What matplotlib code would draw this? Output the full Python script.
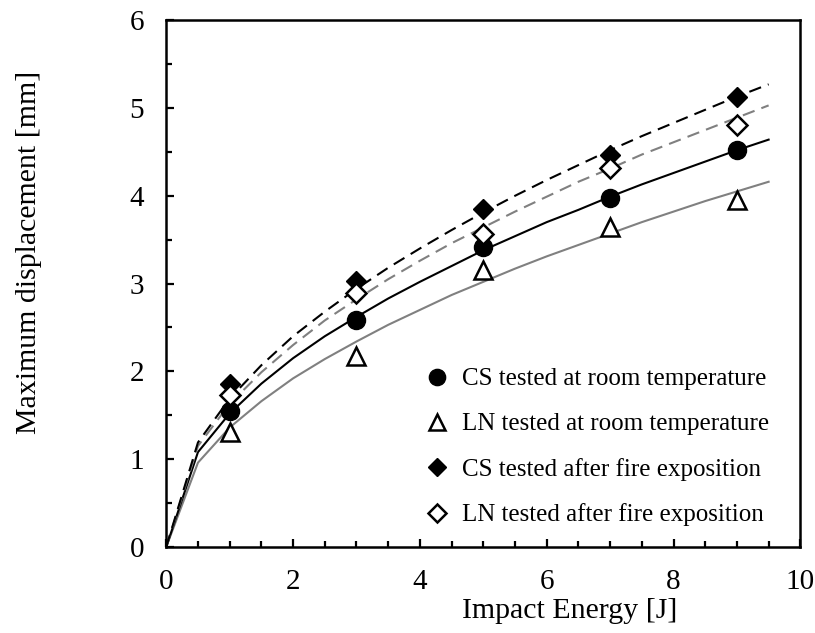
import numpy as np
import matplotlib
matplotlib.use("Agg")
import matplotlib.pyplot as plt
from matplotlib.ticker import MultipleLocator

plt.rcParams["font.family"] = ["Liberation Serif", "DejaVu Serif"]

# measured points
energy = [1, 3, 5, 7, 9]
cs_room = [1.55, 2.59, 3.42, 3.97, 4.52]
ln_room = [1.31, 2.18, 3.15, 3.65, 3.95]
cs_fire = [1.86, 3.03, 3.85, 4.47, 5.13]
ln_fire = [1.73, 2.89, 3.57, 4.32, 4.81]

# trend curves, every 0.5 J
curve_x = [0, 0.5, 1, 1.5, 2, 2.5, 3, 3.5, 4, 4.5, 5, 5.5, 6, 6.5, 7, 7.5, 8, 8.5, 9, 9.5]
cs_room_fit = [0, 1.08, 1.52, 1.86, 2.15, 2.40, 2.62, 2.83, 3.02, 3.20, 3.38, 3.54,
               3.70, 3.84, 3.99, 4.13, 4.26, 4.39, 4.52, 4.64]
ln_room_fit = [0, 0.96, 1.36, 1.66, 1.92, 2.14, 2.34, 2.53, 2.70, 2.87, 3.02, 3.17,
               3.31, 3.44, 3.57, 3.70, 3.82, 3.94, 4.05, 4.16]
cs_fire_fit = [0, 1.19, 1.69, 2.07, 2.40, 2.68, 2.94, 3.18, 3.40, 3.61, 3.81, 4.00,
               4.18, 4.35, 4.52, 4.68, 4.83, 4.98, 5.13, 5.27]
ln_fire_fit = [0, 1.15, 1.63, 1.99, 2.30, 2.58, 2.82, 3.05, 3.26, 3.46, 3.64, 3.82,
               3.99, 4.16, 4.31, 4.47, 4.61, 4.75, 4.89, 5.03]

labels = ["CS tested at room temperature", "LN tested at room temperature",
          "CS tested after fire exposition", "LN tested after fire exposition"]

fig = plt.figure(figsize=(8.15, 6.33), dpi=100)
ax = fig.add_axes([0.204, 0.136, 0.778, 0.832])

gray = "#808080"
dash = (0, (6, 3.5))
ax.plot(curve_x, ln_room_fit, color=gray, lw=1.5, zorder=2)
ax.plot(curve_x, cs_room_fit, color="black", lw=1.5, zorder=2)
ax.plot(curve_x, ln_fire_fit, color=gray, lw=1.5, ls=dash, zorder=2)
ax.plot(curve_x, cs_fire_fit, color="black", lw=1.5, ls=dash, zorder=2)

h1, = ax.plot(energy, cs_room, "o", ms=13, mfc="black", mec="black", zorder=4)
h2, = ax.plot(energy, ln_room, "^", ms=13, mfc="white", mec="black", mew=1.8, zorder=4)
h3, = ax.plot(energy, cs_fire, "D", ms=10, mfc="black", mec="black", zorder=4)
h4, = ax.plot(energy, ln_fire, "D", ms=10, mfc="white", mec="black", mew=1.8, zorder=4)

ax.set_xlim(0, 10)
ax.set_ylim(0, 6)
ax.xaxis.set_major_locator(MultipleLocator(2))
ax.xaxis.set_minor_locator(MultipleLocator(0.5))
ax.yaxis.set_major_locator(MultipleLocator(1))
ax.yaxis.set_minor_locator(MultipleLocator(0.5))
ax.tick_params(which="both", direction="in", width=1.6, labelsize=21)
ax.tick_params(which="major", length=6, pad=16)
ax.tick_params(which="minor", length=4)
for s in ax.spines.values():
    s.set_linewidth(1.8)

ax.set_xlabel("Impact Energy [J]", fontsize=21.5)
ax.xaxis.set_label_coords(0.637, -0.097)
ax.set_ylabel("Maximum displacement [mm]", fontsize=21.5)
ax.yaxis.set_label_coords(-0.196, 0.56)

ax.legend([h1, h2, h3, h4], labels, loc="lower right", frameon=False, fontsize=18,
          bbox_to_anchor=(0.967, 0.02), borderaxespad=0, handletextpad=0.4,
          labelspacing=0.9, handlelength=1.2, markerscale=0.9)

fig.savefig("out.png", dpi=100)
